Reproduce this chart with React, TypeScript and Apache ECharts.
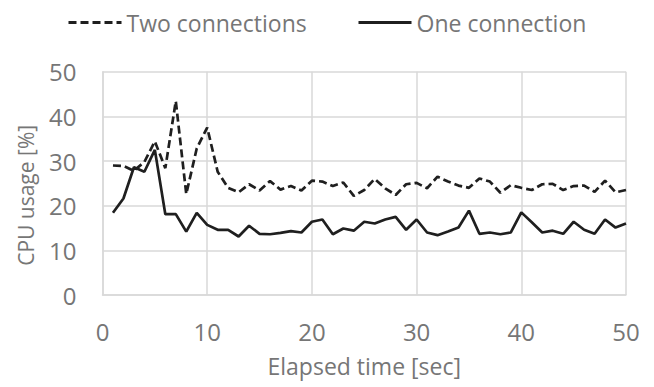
import React, { useEffect, useRef } from "react";
import * as echarts from "echarts";

const seconds = [
  1, 2, 3, 4, 5, 6, 7, 8, 9, 10, 11, 12, 13, 14, 15, 16, 17, 18, 19, 20, 21, 22, 23, 24, 25,
  26, 27, 28, 29, 30, 31, 32, 33, 34, 35, 36, 37, 38, 39, 40, 41, 42, 43, 44, 45, 46, 47, 48, 49, 50,
];

const twoConnections = [
  29.0, 28.9, 27.8, 29.8, 34.4, 28.4, 43.4, 22.6, 32.8, 37.5,
  27.6, 24.0, 23.0, 24.8, 23.4, 25.5, 23.6, 24.4, 23.4, 25.6,
  25.4, 24.4, 25.2, 22.2, 23.5, 26.0, 23.9, 22.4, 24.8, 25.1,
  23.9, 26.5, 25.4, 24.5, 24.0, 26.1, 25.4, 22.9, 24.6, 24.0,
  23.5, 24.8, 24.9, 23.5, 24.4, 24.5, 23.1, 25.6, 23.0, 23.5,
];

const oneConnection = [
  18.4, 21.6, 28.6, 27.6, 32.5, 18.1, 18.1, 14.2, 18.4, 15.7,
  14.6, 14.6, 13.1, 15.5, 13.7, 13.6, 13.9, 14.3, 14.0, 16.4,
  16.9, 13.6, 14.9, 14.4, 16.4, 16.0, 16.9, 17.5, 14.6, 16.9,
  14.0, 13.4, 14.2, 15.1, 18.9, 13.7, 14.0, 13.6, 14.0, 18.5,
  16.3, 14.0, 14.4, 13.7, 16.4, 14.6, 13.7, 16.9, 15.1, 16.0,
];

const seriesNames = ["Two connections", "One connection"];
const xTitle = "Elapsed time [sec]";
const yTitle = "CPU usage [%]";

const FONT = "'Open Sans', 'Noto Sans', sans-serif";
const TEXT = "#767676";
const GRID = "#d9d9d9";
const LINE = "#1f1f1f";

export default function App() {
  const ref = useRef<HTMLDivElement>(null);

  useEffect(() => {
    document.body.style.margin = "0";
    if (!ref.current) return;
    const chart = echarts.init(ref.current, undefined, { renderer: "svg" });
    const pairs = (vals: number[]) => seconds.map((s, i) => [s, vals[i]]);
    const legendText = { fontFamily: FONT, fontSize: 23, color: TEXT };
    const hiddenSymbol = {
      color: "rgba(0,0,0,0)",
      borderColor: "rgba(0,0,0,0)",
      borderWidth: 0,
    };
    chart.setOption({
      animation: false,
      backgroundColor: "#ffffff",
      grid: { left: 102.5, right: 28, top: 71.7, bottom: 92, containLabel: false },
      legend: [
        {
          data: [seriesNames[0]],
          left: 62,
          top: 6,
          itemWidth: 53,
          itemHeight: 14,
          itemGap: 0,
          itemStyle: hiddenSymbol,
          lineStyle: { width: 3 },
          textStyle: legendText,
        },
        {
          data: [seriesNames[1]],
          left: 352,
          top: 6,
          itemWidth: 53,
          itemHeight: 14,
          itemGap: 0,
          itemStyle: hiddenSymbol,
          lineStyle: { width: 3 },
          textStyle: legendText,
        },
      ],
      xAxis: {
        type: "value",
        min: 0,
        max: 50,
        interval: 10,
        name: xTitle,
        nameLocation: "middle",
        nameGap: 71,
        nameTextStyle: { fontFamily: FONT, fontSize: 23, color: TEXT, verticalAlign: "middle" },
        axisLine: { show: true, lineStyle: { color: GRID, width: 1.5 } },
        axisTick: { show: false },
        axisLabel: {
          fontFamily: FONT,
          fontSize: 24,
          color: TEXT,
          margin: 36.5,
          verticalAlign: "middle",
        },
        splitLine: { show: true, lineStyle: { color: GRID, width: 1.5 } },
      },
      yAxis: {
        type: "value",
        min: 0,
        max: 50,
        interval: 10,
        name: yTitle,
        nameLocation: "middle",
        nameRotate: 90,
        nameGap: 66,
        nameTextStyle: {
          fontFamily: FONT,
          fontSize: 21,
          color: TEXT,
          padding: [0, 24, 0, 0],
        },
        axisLine: { show: true, lineStyle: { color: GRID, width: 1.5 } },
        axisTick: { show: false },
        axisLabel: { fontFamily: FONT, fontSize: 24, color: TEXT, margin: 26 },
        splitLine: { show: true, lineStyle: { color: GRID, width: 1.5 } },
      },
      series: [
        {
          name: seriesNames[0],
          type: "line",
          data: pairs(twoConnections),
          symbol: "none",
          showSymbol: false,
          lineStyle: { color: LINE, width: 2.7, type: [8, 4] },
          itemStyle: { color: LINE },
          z: 3,
        },
        {
          name: seriesNames[1],
          type: "line",
          data: pairs(oneConnection),
          symbol: "none",
          showSymbol: false,
          lineStyle: { color: LINE, width: 2.7, type: "solid" },
          itemStyle: { color: LINE },
          z: 2,
        },
      ],
    });
    return () => chart.dispose();
  }, []);

  return <div ref={ref} style={{ width: 654, height: 387 }} />;
}
